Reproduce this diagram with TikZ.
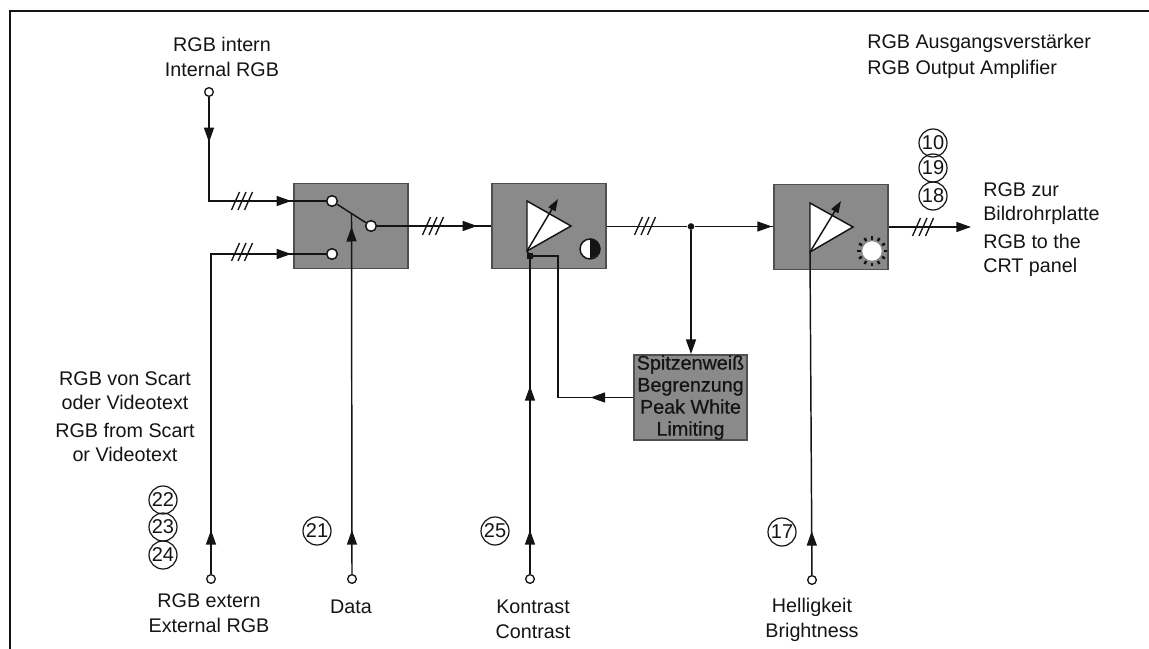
\documentclass[tikz,border=0pt]{standalone}
\usepackage{fontspec}
\usepackage{xcolor}
\setmainfont{Liberation Sans}
\usetikzlibrary{arrows.meta, positioning, calc, decorations.markings}
\definecolor{blockgray}{HTML}{8A8A8A}
\definecolor{inkblack}{HTML}{141414}

\begin{document}
\begin{tikzpicture}[
    x=0.75pt, y=-0.75pt,
    color=inkblack,
    sig/.style={draw=inkblack, line width=1.1pt},
    tipat/.style={postaction={decorate, decoration={markings,
                  mark=at position #1 with {\arrow{Triangle[length=11pt,width=7.5pt]}}}}},
    blockbox/.style={rectangle, draw=inkblack!75, fill=blockgray, line width=1.1pt,
                     minimum width=85.5pt, minimum height=64pt, inner sep=0pt},
    lbl/.style={font=\fontsize{14.8pt}{19pt}\selectfont, align=center, inner sep=0pt},
    lblleft/.style={font=\fontsize{14.8pt}{18pt}\selectfont, align=left, inner sep=0pt, anchor=west},
    terminal/.style={circle, draw=inkblack, fill=white, line width=1pt, minimum size=6.5pt, inner sep=0pt},
    contact/.style={circle, draw=inkblack, fill=white, line width=1.1pt, minimum size=8pt, inner sep=0pt},
    pinnum/.style={circle, draw=inkblack, line width=0.9pt, minimum size=21pt, inner sep=0pt,
                   font=\fontsize{15pt}{18pt}\selectfont},
    junct/.style={circle, fill=inkblack, minimum size=5pt, inner sep=0pt},
    slashes/.pic={\foreach \dx in {-6.5,0,6.5} \draw[inkblack, line width=1pt] (\dx-4,9) -- (\dx+4,-9);}
]
\useasboundingbox (0,0) rectangle (1149,649);
\draw[inkblack, line width=2pt] (10,649) -- (10,11) -- (1149,11);

% blocks
\node[blockbox] (switch) at (351,226)   {};
\node[blockbox] (ampc)   at (549,226)   {};
\node[blockbox] (ampb)   at (831,227)   {};
\node[blockbox, minimum width=85pt, minimum height=64pt, align=center,
      font=\fontsize{14.8pt}{16.5pt}\selectfont\addfontfeature{FakeBold=0.6}]
      (peak) at (690.5,397.5) {Spitzenwei\ss\\Begrenzung\\Peak White\\Limiting};

% terminals
\node[terminal] (intin)  at (209,92)  {};
\node[terminal] (extin)  at (211,579) {};
\node[terminal] (datain) at (352,579) {};
\node[terminal] (contin) at (530,579) {};
\node[terminal] (brtin)  at (812,580) {};

% switch
\node[contact] (swa)  at (332,201) {};
\node[contact] (swb)  at (332,254) {};
\node[contact] (swo)  at (371,226) {};
\coordinate (arm) at ($(swa)!0.5!(swo)$);
\draw[sig] (swa) -- (swo);

% amplifiers
\coordinate (ca) at (527,201);
\coordinate (cb) at (527,251);
\coordinate (cc) at (571,226);
\coordinate (cg) at (558,199);
\coordinate (ba) at (810,203);
\coordinate (bb) at (810,252);
\coordinate (bc) at (853,227);
\coordinate (bg) at (841,201);
\draw[sig, fill=white] (ca) -- (cc) -- (cb) -- cycle;
\draw[sig, fill=white] (ba) -- (bc) -- (bb) -- cycle;
\draw[sig, -{Triangle[length=9pt,width=6pt]}] (cb) -- (cg);
\draw[sig, -{Triangle[length=9pt,width=6pt]}] (bb) -- (bg);

% contrast and brightness symbols
\node[circle, draw=inkblack, fill=white, line width=1.1pt, minimum size=15pt, inner sep=0pt] (half) at (590,249) {};
\fill[inkblack] (half.north) arc[start angle=90, end angle=-90, radius=7.5pt] -- cycle;
\node[circle, fill=white, minimum size=14.5pt, inner sep=0pt] (sun) at (872,251) {};
\foreach \a in {0,30,...,330}
    \draw[inkblack, line width=1.8pt] ($(sun)+(\a:11.5)$) -- ($(sun)+(\a:15)$);

% connectors
\coordinate (split) at (691,226.5);
\coordinate (conttop) at (530,256);
\coordinate (fbtop) at (558,256);
\coordinate (outend) at (971,227);
\node[junct] (dot) at (split) {};
\draw[sig, tipat=34pt, tipat=-26pt] (intin) |- (swa);
\draw[sig, tipat=33pt, tipat=-26pt] (extin) |- (swb);
\draw[sig, tipat=33pt, tipat=-10pt] (datain) -- (arm);
\draw[sig, tipat=-10.5pt] (swo) -- (ampc);
\draw[sig] (ampc.east |- split) -- (dot);
\draw[sig, tipat=-1pt] (dot) -- (ampb.west |- dot);
\draw[sig, -{Triangle[length=11pt,width=7.5pt]}] (dot) -- (peak.north -| dot);
\draw[sig, tipat=33pt, tipat=141pt] (contin) -- (conttop);
\draw[sig] (conttop) -- (cb);
\node[junct, rectangle, minimum size=4pt] (contend) at (conttop) {};
\draw[sig, tipat=32pt] (peak) -| (fbtop) -- (conttop);
\draw[sig, tipat=33pt] (brtin) -- (bb);
\draw[sig, -{Triangle[length=11pt,width=7.5pt]}] (ampb.east) -- (outend);

% bus marks
\pic at (242,201) {slashes};
\pic at (242,252) {slashes};
\pic at (433,226) {slashes};
\pic at (645,226) {slashes};
\pic at (923,227) {slashes};

% pin numbers
\foreach \n/\x/\y in {22/163/500, 23/163/527, 24/163/555, 21/317/531, 25/495/531,
                      17/782/532, 10/933/143, 19/933/168, 18/933/196}
    \node[pinnum] (pin\n) at (\x,\y) {\n};

% labels
\node[lbl] (ltop)  at (222,57)  {RGB intern\\Internal RGB};
\node[lblleft, font=\fontsize{14.8pt}{19.5pt}\selectfont] (ltitle) at (867,56) {RGB Ausgangsverst\"arker\\RGB Output Amplifier};
\node[lblleft] (lout) at (983,230) {RGB zur\\Bildrohrplatte\\[3pt]RGB to the\\CRT panel};
\node[lbl, font=\fontsize{14.8pt}{18pt}\selectfont] (lscart) at (125,417) {RGB von Scart\\oder Videotext\\[3pt]RGB from Scart\\or Videotext};
\node[lbl] (lext)  at (209,613) {RGB extern\\External RGB};
\node[lbl] (ldata) at (351,607) {Data};
\node[lbl] (lcont) at (533,619) {Kontrast\\Contrast};
\node[lbl] (lbrt)  at (812,620) {Helligkeit\\Brightness};
\end{tikzpicture}
\end{document}
